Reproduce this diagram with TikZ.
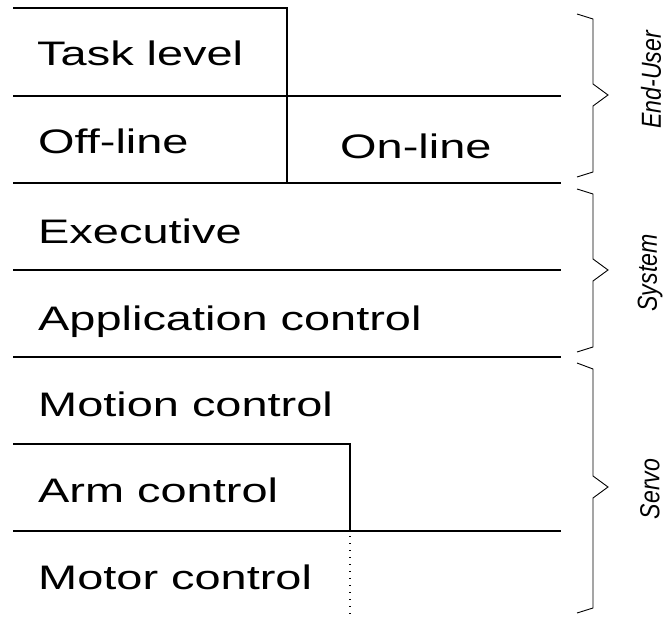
\documentclass[tikz,border=0pt]{standalone}
\usepackage{fontspec}
\setmainfont{Liberation Sans}[FakeStretch=1.38]
\newfontfamily\rotfont{Liberation Sans}[FakeStretch=1.05]
\begin{document}
\begin{tikzpicture}[x=1pt,y=-1pt,
  rule/.style={line width=1.7pt},
  dotrule/.style={line width=1.6pt, dash pattern=on 1.4pt off 5.6pt},
  bracket/.style={line width=0.9pt, line join=miter},
  lvl/.style={anchor=base west, inner sep=0pt, font=\fontsize{34}{40}\selectfont},
  side/.style={rotate=90, inner sep=0pt, font=\rotfont\itshape\fontsize{22}{26}\selectfont}]
\useasboundingbox (0,0) rectangle (667,617);

% rules
\draw[rule] (13,8) -- (287,8) -- (287,183);
\draw[rule] (13,96) -- (561,96);
\draw[rule] (13,183) -- (561,183);
\draw[rule] (13,270) -- (561,270);
\draw[rule] (13,357) -- (561,357);
\draw[rule] (13,444) -- (350,444) -- (350,531);
\draw[rule] (13,531) -- (561,531);
\draw[dotrule] (350,536) -- (350,617);

% level texts
\node[lvl] (task) at (37,66) {Task level};
\node[lvl] (off) at (38,154) {Off-line};
\node[lvl] (on) at (340,159) {On-line};
\node[lvl] (exec) at (38,244) {Executive};
\node[lvl] (app) at (38,331) {Application control};
\node[lvl] (motion) at (38,417) {Motion control};
\node[lvl] (arm) at (38,502) {Arm control};
\node[lvl] (motor) at (38,589) {Motor control};

% braces
\draw[bracket] (577,14) -- (593,19) -- (593,84) -- (608,95) -- (593,106) -- (593,172) -- (577,177);
\draw[bracket] (577,189) -- (593,194) -- (593,259) -- (608,270) -- (593,281) -- (593,347) -- (577,352);
\draw[bracket] (577,363) -- (593,369) -- (593,476) -- (608,487) -- (593,498) -- (593,608) -- (577,613);

% side labels
\node[side] (enduser) at (651,80) {\scalebox{1}[1.25]{End-User}};
\node[side] (system) at (650,273) {\scalebox{1}[1.25]{System}};
\node[side] (servo) at (650,489) {\scalebox{1}[1.25]{Servo}};
\end{tikzpicture}
\end{document}
